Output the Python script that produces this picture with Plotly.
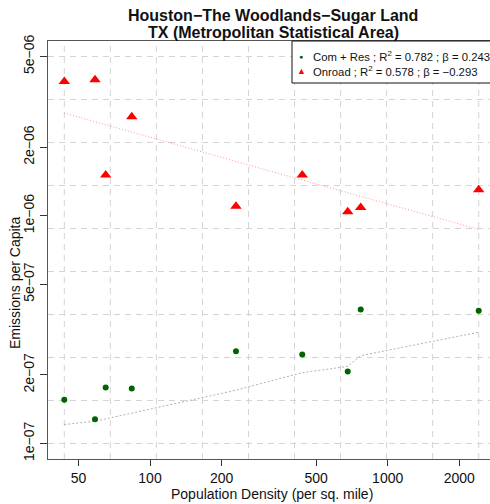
import numpy as np
import plotly.graph_objects as go

# ---- data ----
density = [43.6, 58.7, 65.1, 83.8, 230, 437, 679, 770, 2415]
com_res = [1.556e-7, 1.278e-7, 1.762e-7, 1.742e-7, 2.54e-7, 2.457e-7, 2.07e-7, 3.88e-7, 3.83e-7]
com_res_fit = [1.212e-7, 1.253e-7, 1.282e-7, 1.357e-7, 1.714e-7, 2.046e-7, 2.18e-7, 2.43e-7, 3.08e-7]
onroad = [3.88e-6, 3.95e-6, 1.51e-6, 2.72e-6, 1.10e-6, 1.51e-6, 1.04e-6, 1.087e-6, 1.30e-6]
onroad_fit = [2.82e-6, 2.59e-6, 2.51e-6, 2.33e-6, 1.73e-6, 1.436e-6, 1.263e-6, 1.216e-6, 8.71e-7]

x_ticks = [50, 100, 200, 500, 1000, 2000]
x_ticktext = ["50", "100", "200", "500", "1000", "2000"]
y_ticks = [1e-7, 2e-7, 5e-7, 1e-6, 2e-6, 5e-6]
y_ticktext = ["1e\u221207", "2e\u221207", "5e\u221207", "1e\u221206", "2e\u221206", "5e\u221206"]
y_lim = [1e-7, 5e-6]

title_lines = ["Houston\u2212The Woodlands\u2212Sugar Land", "TX (Metropolitan Statistical Area)"]
x_title = "Population Density (per sq. mile)"
y_title = "Emissions per Capita"
leg_labels = ["Com + Res ; R<sup>2</sup> = 0.782 ; \u03b2 = 0.243",
              "Onroad ; R<sup>2</sup> = 0.578 ; \u03b2 = \u22120.293"]
leg_symbols = ["\u25cf", "\u25b2"]
colors = ["#006400", "#ff0000"]

# axis ranges (log10)
x_range = [1.5709, 3.4304]
y_range = [-7.068, -5.233]

W, H = 490, 504
ML, MR, MT, MB = 48, 0, 41, 45
PW, PH = W - ML - MR, H - MT - MB


def px(xp):
    return (xp - ML) / PW


def py(yp):
    return (H - MB - yp) / PH


fig = go.Figure()

# dashed grid (R grid style: equal log steps across data range / ylim)
gx = np.logspace(np.log10(min(density)), np.log10(max(density)), 10)
gy = np.logspace(np.log10(y_lim[0]), np.log10(y_lim[1]), 10)
xs, ys = [], []
ylo, yhi = 10 ** y_range[0], 10 ** y_range[1]
xlo, xhi = 10 ** x_range[0], 10 ** x_range[1]
for v in gx:
    xs += [v, v, None]
    ys += [ylo, yhi, None]
for v in gy:
    xs += [xlo, xhi, None]
    ys += [v, v, None]
fig.add_trace(go.Scatter(x=xs, y=ys, mode="lines", line=dict(color="#d4d4d4", width=1, dash="6px,5px"),
                         showlegend=False, hoverinfo="skip"))

# fit lines
fig.add_trace(go.Scatter(x=density, y=com_res_fit, mode="lines",
                         line=dict(color="rgba(90,130,90,0.55)", width=1, dash="2px,2px"),
                         showlegend=False, hoverinfo="skip"))
fig.add_trace(go.Scatter(x=density, y=onroad_fit, mode="lines",
                         line=dict(color="rgba(255,80,80,0.6)", width=1, dash="1px,2px"),
                         showlegend=False, hoverinfo="skip"))

# points
fig.add_trace(go.Scatter(x=density, y=com_res, mode="markers", name="Com + Res",
                         marker=dict(symbol="circle", size=6, color=colors[0]), showlegend=False))
fig.add_trace(go.Scatter(x=density, y=onroad, mode="markers", name="Onroad",
                         marker=dict(symbol="triangle-up", size=10, color=colors[1]), showlegend=False))

# manual legend (box runs past the right edge, as in the reference)
fig.add_shape(type="rect", xref="paper", yref="paper", x0=px(292), x1=px(520), y0=py(83), y1=py(41),
              line=dict(color="#111", width=1), fillcolor="white", layer="above")
annotations = []
for i, (sym, lab, col) in enumerate(zip(leg_symbols, leg_labels, colors)):
    yy = py(56 + 15.5 * i)
    annotations.append(dict(x=px(301), y=yy, xref="paper", yref="paper", text=sym, showarrow=False,
                            font=dict(size=7 if i == 0 else 9, color=col), xanchor="center", yanchor="middle"))
    annotations.append(dict(x=px(311), y=yy, xref="paper", yref="paper", text=lab, showarrow=False,
                            font=dict(size=11.3, color="#111"), xanchor="left", yanchor="middle"))
for i, t in enumerate(title_lines):
    annotations.append(dict(x=px(273), y=py(15.5 + 17 * i), xref="paper", yref="paper", text="<b>" + t + "</b>",
                            showarrow=False, font=dict(size=16, color="#111"),
                            xanchor="center", yanchor="middle"))
annotations.append(dict(x=px(15), y=py(283), xref="paper", yref="paper", text=y_title, textangle=-90,
                        showarrow=False, font=dict(size=14, color="#111"), xanchor="center", yanchor="middle"))
annotations.append(dict(x=px(272), y=py(494), xref="paper", yref="paper", text=x_title,
                        showarrow=False, font=dict(size=14, color="#111"), xanchor="center", yanchor="middle"))

fig.update_layout(
    width=W, height=H,
    margin=dict(l=ML, r=MR, t=MT, b=MB, autoexpand=False),
    paper_bgcolor="white", plot_bgcolor="white",
    font=dict(family="Liberation Sans, Arial, sans-serif", color="#111", size=14),
    annotations=annotations,
    showlegend=False,
)
fig.update_xaxes(type="log", range=x_range, tickvals=x_ticks, ticktext=x_ticktext,
                 showgrid=False, zeroline=False, showline=True, linecolor="#555", linewidth=1,
                 mirror=True, ticks="outside", ticklen=6, tickcolor="#333", automargin=False,
                 tickfont=dict(size=14))
fig.update_yaxes(type="log", range=y_range, tickvals=y_ticks, ticktext=y_ticktext,
                 showgrid=False, zeroline=False, showline=True, linecolor="#555", linewidth=1,
                 ticks="outside", ticklen=7, tickcolor="#333", tickangle=-90, automargin=False,
                 tickfont=dict(size=14))

fig.write_html("out.html", config={"displayModeBar": False, "staticPlot": True},
               post_script="document.body.style.margin='0';document.body.style.overflow='hidden';")
